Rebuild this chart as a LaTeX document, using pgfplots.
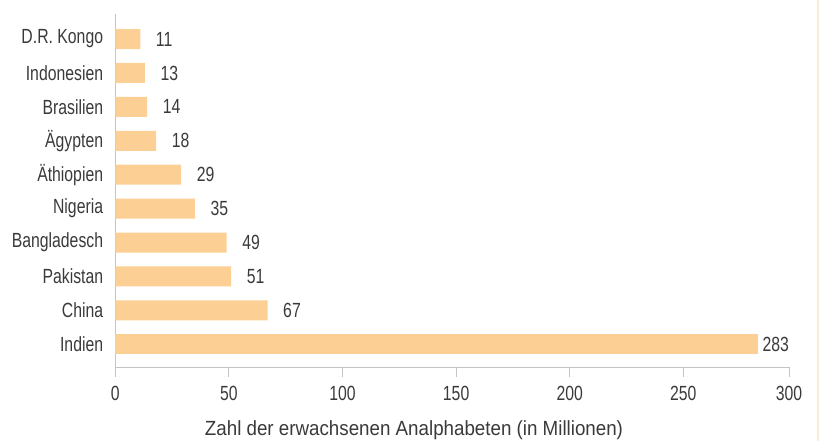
\documentclass[border=0pt]{standalone}
\usepackage{fontspec}
\setmainfont{Liberation Sans}[FakeStretch=0.77]
\newfontfamily\xlfont{Liberation Sans}[FakeStretch=0.915]
\usepackage{pgfplots}
\pgfplotsset{compat=1.18}
\definecolor{barc}{HTML}{FCCF94}
\definecolor{axc}{HTML}{C4C4C4}
\definecolor{txt}{HTML}{3A3A3A}
\definecolor{cream}{HTML}{FDEBDA}
\begin{document}
\begin{tikzpicture}
\fill[cream] (816.5pt,0pt) rectangle (819pt,-441pt);
\begin{axis}[
  at={(115.3pt,-367pt)}, anchor=south west,
  scale only axis, width=673.7pt, height=353pt,
  xmin=0, xmax=296.5, ymin=-0.669, ymax=9.738,
  xbar, bar width=20pt, bar shift=0pt,
  axis x line*=bottom, axis y line*=left,
  axis line style={draw=axc, line width=0.9pt, -},
  tick align=outside, major tick length=10pt,
  xtick={0,50,100,150,200,250,296.5},
  xticklabels={0,50,100,150,200,250,300},
  xtick style={draw=axc, line width=0.9pt},
  ytick={0,...,9},
  yticklabels={Indien,China,Pakistan,Bangladesch,Nigeria,Äthiopien,Ägypten,Brasilien,Indonesien,D.R. Kongo},
  ytick style={draw=none},
  /pgf/number format/assume math mode=true,
  ticklabel style={font=\fontsize{20.5}{22}\selectfont, text=txt},
  yticklabel style={anchor=east, inner sep=0pt, xshift=-2pt},
  xticklabel style={anchor=north, inner sep=0pt, yshift=-9pt},
  xlabel={Zahl der erwachsenen Analphabeten (in Millionen)},
  xlabel style={at={(rel axis cs:0.4434,0)}, anchor=base, yshift=-68pt, inner sep=0pt,
    font=\xlfont\fontsize{20.5}{22}\selectfont, text=txt},
  clip=false,
  nodes near coords,
  every node near coord/.style={anchor=west, inner sep=0pt, font=\fontsize{20.5}{22}\selectfont, text=txt},
]
\addplot[fill=barc, draw=none, every node near coord/.append style={xshift=15.5pt}] coordinates {
  (67,1) (51,2) (49,3) (35,4) (29,5) (18,6) (14,7) (13,8) (11,9)
};
\addplot[fill=barc, draw=none, every node near coord/.append style={xshift=4pt}] coordinates {
  (283,0)
};
\end{axis}
\pgfresetboundingbox
\path[use as bounding box] (0pt,0pt) rectangle (819pt,-441pt);
\end{tikzpicture}
\end{document}
